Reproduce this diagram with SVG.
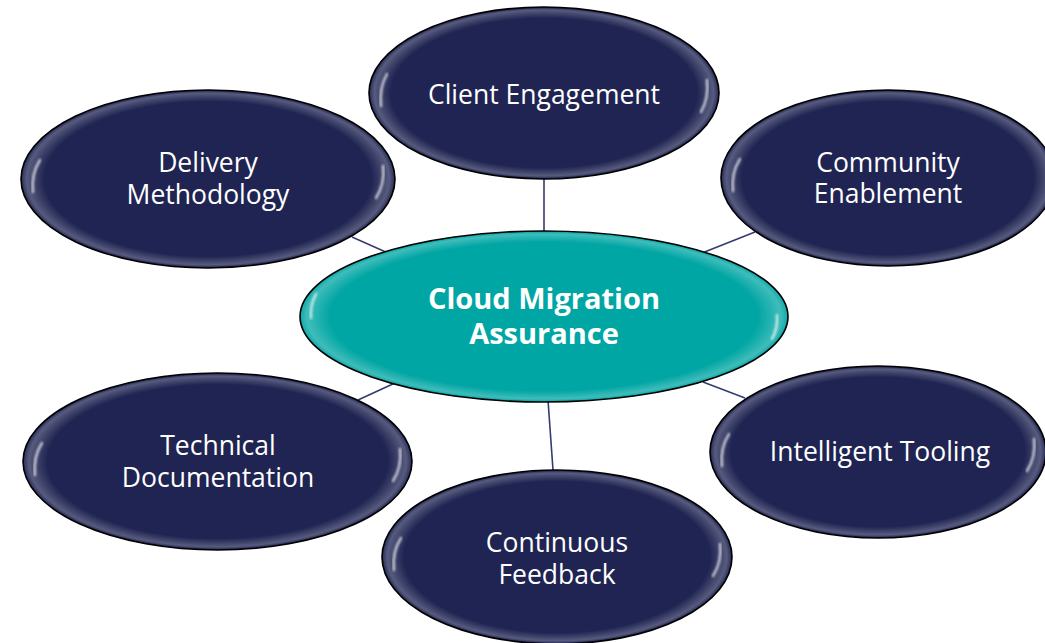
<svg xmlns="http://www.w3.org/2000/svg" width="1045" height="643" viewBox="0 0 1045 643">
<style>
.conn{stroke:#353b6e;stroke-width:1.6;fill:none}
.navy{fill:#1f2452;stroke:#000;stroke-width:1.6}
.teal{fill:#00a6a4;stroke:#000;stroke-width:1.6}
.rim{fill:url(#rimG);stroke:none}
.hl{fill:none;stroke:#ffffff;stroke-width:2.5;stroke-linecap:round;opacity:0.7;filter:url(#soft)}
.lbl{font-family:"Open Sans","Noto Sans","Liberation Sans",sans-serif;font-size:26.5px;fill:#ffffff;text-anchor:middle}
.clbl{font-family:"Open Sans","Noto Sans","Liberation Sans",sans-serif;font-size:29px;font-weight:bold;fill:#ffffff;text-anchor:middle}
</style>
<defs>
<radialGradient id="rimG" cx="0.5" cy="0.5" r="0.5">
<stop offset="0.88" stop-color="#ffffff" stop-opacity="0"/>
<stop offset="0.975" stop-color="#ffffff" stop-opacity="0.25"/>
<stop offset="1" stop-color="#ffffff" stop-opacity="0.08"/>
</radialGradient>
<filter id="soft" x="-20%" y="-20%" width="140%" height="140%"><feGaussianBlur stdDeviation="0.9"/></filter>
</defs>
<rect width="1045" height="643" fill="#ffffff"/>
<g id="connectors">
<line class="conn" x1="544" y1="179" x2="544" y2="233"/>
<line class="conn" x1="352" y1="237" x2="388" y2="253"/>
<line class="conn" x1="755" y1="232" x2="702" y2="253"/>
<line class="conn" x1="395" y1="383" x2="358" y2="400"/>
<line class="conn" x1="703" y1="382" x2="745" y2="398"/>
<line class="conn" x1="548" y1="400" x2="553" y2="470"/>
</g>
<g id="client-engagement">
<ellipse class="navy" cx="544" cy="93" rx="175" ry="86"/>
<ellipse class="rim" cx="544" cy="93" rx="174" ry="85"/>
<path class="hl" d="M381 106 Q379 88 387 74"/>
<path class="hl" d="M707 80 Q709 98 701 112"/>
<text class="lbl" x="544" y="103.5">Client Engagement</text>
</g>
<g id="delivery-methodology">
<ellipse class="navy" cx="208" cy="179" rx="187" ry="89"/>
<ellipse class="rim" cx="208" cy="179" rx="186" ry="88"/>
<path class="hl" d="M33 192 Q31 174 40 160"/>
<path class="hl" d="M383 166 Q385 184 376 198"/>
<text class="lbl" x="208" y="171.5">Delivery</text>
<text class="lbl" x="208" y="203.5">Methodology</text>
</g>
<g id="community-enablement">
<ellipse class="navy" cx="888" cy="178" rx="167" ry="88"/>
<ellipse class="rim" cx="888" cy="178" rx="166" ry="87"/>
<path class="hl" d="M733 191 Q731 173 740 159"/>
<text class="lbl" x="888" y="171.5">Community</text>
<text class="lbl" x="888" y="202.5">Enablement</text>
</g>
<g id="cloud-migration-assurance">
<ellipse class="teal" cx="544" cy="316.5" rx="244" ry="85.5"/>
<ellipse class="rim" cx="544" cy="316.5" rx="243" ry="84.5"/>
<path class="hl" d="M311 318 Q310 305 316 294"/>
<path class="hl" d="M777 315 Q778 328 772 339"/>
<text class="clbl" x="544" y="308.5">Cloud Migration</text>
<text class="clbl" x="544" y="343.5">Assurance</text>
</g>
<g id="technical-documentation">
<ellipse class="navy" cx="217.5" cy="461.5" rx="194.5" ry="88.5"/>
<ellipse class="rim" cx="217.5" cy="461.5" rx="193.5" ry="87.5"/>
<path class="hl" d="M35 475 Q33 457 42 443"/>
<path class="hl" d="M400 449 Q402 467 393 481"/>
<text class="lbl" x="218" y="454.5">Technical</text>
<text class="lbl" x="218" y="486.5">Documentation</text>
</g>
<g id="intelligent-tooling">
<ellipse class="navy" cx="878" cy="452" rx="168" ry="86"/>
<ellipse class="rim" cx="878" cy="452" rx="167" ry="85"/>
<path class="hl" d="M722 466 Q720 448 729 434"/>
<path class="hl" d="M1034 439 Q1036 457 1027 471"/>
<text class="lbl" x="880" y="461">Intelligent Tooling</text>
</g>
<g id="continuous-feedback">
<ellipse class="navy" cx="557" cy="557" rx="175" ry="87"/>
<ellipse class="rim" cx="557" cy="557" rx="174" ry="86"/>
<path class="hl" d="M394 570 Q392 552 401 538"/>
<path class="hl" d="M720 544 Q722 562 713 576"/>
<text class="lbl" x="557" y="551.5">Continuous</text>
<text class="lbl" x="557" y="583.5">Feedback</text>
</g>
</svg>
